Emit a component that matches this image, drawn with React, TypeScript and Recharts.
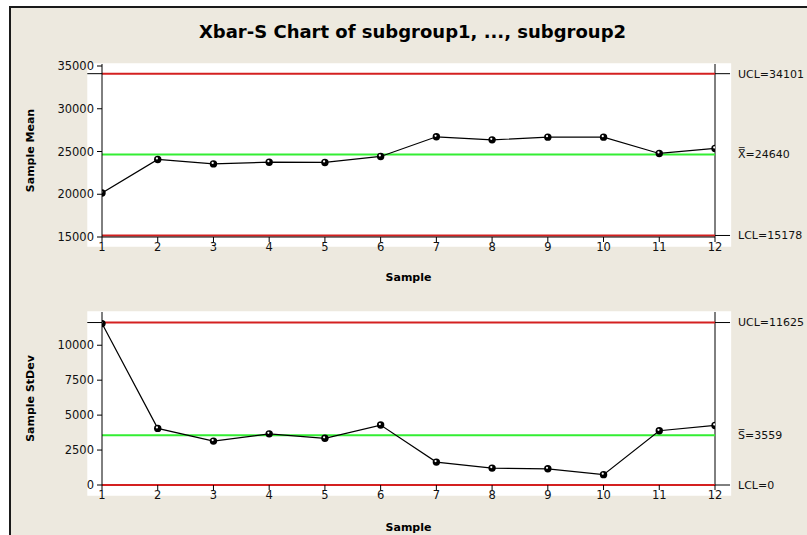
import {
  LineChart,
  Line,
  XAxis,
  YAxis,
  ReferenceLine,
  ReferenceArea,
} from 'recharts';

const samples = [1, 2, 3, 4, 5, 6, 7, 8, 9, 10, 11, 12];
const sampleMeans = [20150, 24070, 23550, 23750, 23720, 24420, 26720, 26360, 26680, 26680, 24770, 25360];
const sampleStDevs = [11550, 4050, 3140, 3660, 3340, 4290, 1640, 1210, 1160, 740, 3880, 4260];

const meanTicks = [15000, 20000, 25000, 30000, 35000];
const stdevTicks = [0, 2500, 5000, 7500, 10000];

// control limits as printed on the right of each panel
const meanLimits = { ucl: 34101, center: 24640, lcl: 15178 };
const stdevLimits = { ucl: 11625, center: 3559, lcl: 0 };

const FONT = '"DejaVu Sans", Verdana, sans-serif';
const RED = '#D42020';
const GREEN = '#33EE33';

const meanData = samples.map((s, i) => ({ sample: s, value: sampleMeans[i] }));
const stdevData = samples.map((s, i) => ({ sample: s, value: sampleStDevs[i] }));

function MarkerDot(props: any) {
  const { cx, cy, index } = props;
  if (cx == null || cy == null) return null;
  return (
    <g key={`dot-${index}`}>
      <circle cx={cx} cy={cy} r={3.7} fill="#000" />
      <circle cx={cx - 0.8} cy={cy - 1} r={1.1} fill="#fff" />
    </g>
  );
}

interface PanelProps {
  data: { sample: number; value: number }[];
  top: number;
  height: number;
  margin: { top: number; right: number; bottom: number; left: number };
  xAxisHeight: number;
  xAxisLine: boolean;
  xLabelOffset: number;
  domain: [number, number];
  ticks: number[];
  white: [number, number];
  limits: { ucl: number; center: number; lcl: number };
  centerName: string;
  yLabel: string;
}

function ControlPanel(p: PanelProps) {
  const labelStyle = { fill: '#111', fontSize: 11, fontFamily: FONT };
  return (
    <div style={{ position: 'absolute', left: 0, top: p.top }}>
      <LineChart width={807} height={p.height} data={p.data} margin={p.margin}>
        <ReferenceArea
          x1={0.736}
          x2={12.29}
          y1={p.white[0]}
          y2={p.white[1]}
          ifOverflow="visible"
          fill="#fff"
          fillOpacity={1}
          stroke="none"
        />
        <XAxis
          type="number"
          dataKey="sample"
          domain={[1, 12]}
          ticks={samples}
          allowDataOverflow
          height={p.xAxisHeight}
          stroke="#000"
          axisLine={p.xAxisLine}
          tickSize={5}
          tickMargin={1}
          tick={{ fill: '#111', fontSize: 11.5, fontFamily: FONT }}
          label={{
            value: 'Sample',
            position: 'insideBottom',
            offset: p.xLabelOffset,
            style: { fill: '#000', fontSize: 11, fontWeight: 'bold', fontFamily: FONT },
          }}
        />
        <YAxis
          type="number"
          domain={p.domain}
          ticks={p.ticks}
          allowDataOverflow
          width={90}
          stroke="#000"
          tickSize={5}
          tickMargin={3}
          tick={{ fill: '#111', fontSize: 11.5, fontFamily: FONT }}
          label={{
            value: p.yLabel,
            angle: -90,
            position: 'insideLeft',
            offset: 18,
            style: { textAnchor: 'middle', fill: '#000', fontSize: 11, fontWeight: 'bold', fontFamily: FONT },
          }}
        />
        <ReferenceLine x={12} stroke="#000" />
        <ReferenceLine
          y={p.limits.ucl}
          stroke={RED}
          strokeWidth={2}
          label={{ value: `UCL=${p.limits.ucl}`, position: 'right', offset: 23, style: labelStyle }}
        />
        <ReferenceLine
          y={p.limits.center}
          stroke={GREEN}
          strokeWidth={2}
          label={{ value: `${p.centerName}=${p.limits.center}`, position: 'right', offset: 23, style: labelStyle }}
        />
        <ReferenceLine
          y={p.limits.lcl}
          stroke={RED}
          strokeWidth={2}
          label={{ value: `LCL=${p.limits.lcl}`, position: 'right', offset: 23, style: labelStyle }}
        />
        <ReferenceLine
          segment={[{ x: 12, y: p.limits.ucl }, { x: 12.27, y: p.limits.ucl }]}
          ifOverflow="visible"
          stroke="#000"
        />
        <ReferenceLine
          segment={[{ x: 12, y: p.limits.lcl }, { x: 12.27, y: p.limits.lcl }]}
          ifOverflow="visible"
          stroke="#000"
        />
        <ReferenceLine
          segment={[{ x: 0.736, y: p.limits.ucl }, { x: 1, y: p.limits.ucl }]}
          ifOverflow="visible"
          stroke="#000"
        />
        <Line
          type="linear"
          dataKey="value"
          stroke="#000"
          strokeWidth={1.2}
          dot={MarkerDot}
          activeDot={false}
          isAnimationActive={false}
        />
      </LineChart>
    </div>
  );
}

export default function App() {
  return (
    <div
      style={{
        position: 'absolute',
        left: 0,
        top: 0,
        width: 807,
        height: 535,
        overflow: 'hidden',
        background: '#fff',
        fontFamily: FONT,
      }}
    >
      <div
        style={{
          position: 'absolute',
          left: 9,
          top: 6,
          width: 820,
          height: 560,
          background: '#EDE9DF',
          borderLeft: '2px solid #1a1a1a',
          borderTop: '2px solid #1a1a1a',
        }}
      />
      <div
        style={{
          position: 'absolute',
          left: 0,
          top: 21,
          width: 825,
          lineHeight: '22px',
          textAlign: 'center',
          fontSize: 18,
          fontWeight: 'bold',
          color: '#000',
        }}
      >
        Xbar-S Chart of subgroup1, ..., subgroup2
      </div>
      <ControlPanel
        data={meanData}
        top={0}
        height={290}
        margin={{ top: 64, right: 92, bottom: 3, left: 12 }}
        xAxisHeight={50}
        xAxisLine={true}
        xLabelOffset={6}
        domain={[15000, 35234]}
        ticks={meanTicks}
        white={[13863, 35316]}
        limits={meanLimits}
        centerName={'X\u033F'}
        yLabel="Sample Mean"
      />
      <ControlPanel
        data={stdevData}
        top={290}
        height={245}
        margin={{ top: 22, right: 92, bottom: 2, left: 12 }}
        xAxisHeight={48}
        xAxisLine={false}
        xLabelOffset={2}
        domain={[0, 12379]}
        ticks={stdevTicks}
        white={[-765, 12429]}
        limits={stdevLimits}
        centerName={'S\u0305'}
        yLabel="Sample StDev"
      />
    </div>
  );
}
